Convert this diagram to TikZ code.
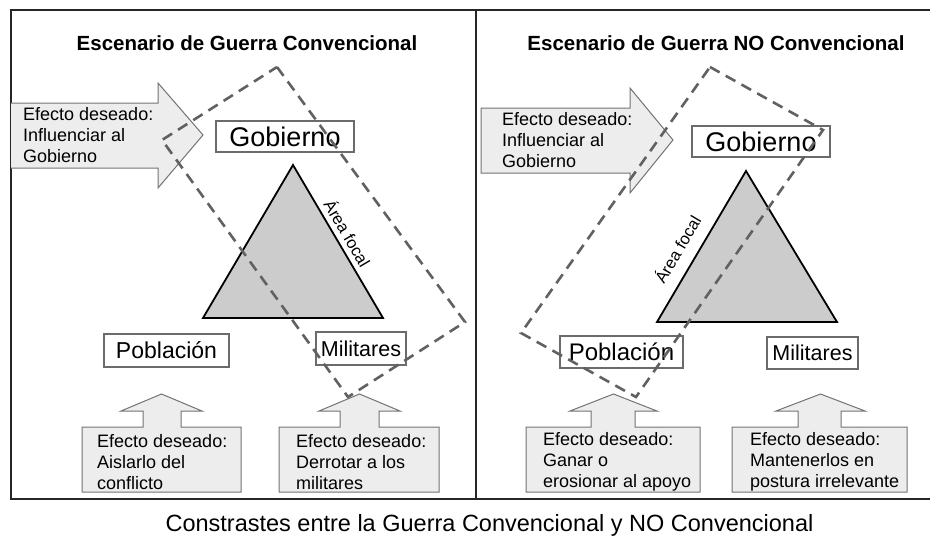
\documentclass[tikz,border=0pt]{standalone}
\usepackage{fontspec}
\setmainfont{Liberation Sans}
\definecolor{arrowfill}{gray}{0.93}
\definecolor{arrowdraw}{gray}{0.45}
\definecolor{trifill}{gray}{0.80}
\definecolor{dashcol}{gray}{0.38}
\definecolor{boxdraw}{gray}{0.42}
\tikzset{
  arrowshape/.style={fill=arrowfill, draw=arrowdraw, line width=1pt, line join=miter},
  labelbox/.style={draw=boxdraw, fill=white, line width=1.2pt, inner sep=0pt},
  focalzone/.style={draw=dashcol, dash pattern=on 11pt off 7pt, line width=2.6pt},
  tri/.style={fill=trifill, draw=black, line width=1.8pt, line join=miter},
  smalltext/.style={font=\fontsize{18}{21}\selectfont, align=left, inner sep=0pt, anchor=west},
  titletext/.style={font=\bfseries\fontsize{20.5}{23}\selectfont, inner sep=0pt},
  focaltext/.style={font=\fontsize{16.5}{18}\selectfont, inner sep=0pt},
  frameline/.style={line width=2pt, draw=black!85}
}
\begin{document}
\begin{tikzpicture}[x=1pt,y=-1pt]
\useasboundingbox (0,0) rectangle (930,536);
% frame
\draw[frameline] (932,10) -- (11,10) -- (11,499) -- (932,499);
\draw[frameline] (476,10) -- (476,499);
% titles
\node[titletext] (t1) at (247,43) {Escenario de Guerra Convencional};
\node[titletext] (t2) at (716,43) {Escenario de Guerra NO Convencional};
% ---------- left panel ----------
\draw[arrowshape] (11,103) -- (158,103) -- (158,83) -- (203,135) -- (158,188) -- (158,168) -- (11,168);
\node[smalltext] (a1) at (23,135) {Efecto deseado:\\Influenciar al\\Gobierno};
\node[labelbox, minimum width=138pt, minimum height=31pt, font=\fontsize{27}{30}\selectfont] (g1) at (285,136.5) {Gobierno};
\coordinate (l1) at (293,165);
\coordinate (l2) at (383,318);
\coordinate (l3) at (203,318);
\draw[tri] (l1) -- (l2) -- (l3) -- cycle;
\node[focaltext, rotate=-59.5] (f1) at (348,233) {Área focal};
\node[labelbox, minimum width=125pt, minimum height=33pt, font=\fontsize{23}{26}\selectfont] (p1) at (166.5,350.5) {Población};
\node[labelbox, minimum width=90pt, minimum height=33pt, font=\fontsize{21.5}{24}\selectfont] (m1) at (361,348.5) {Militares};
\draw[arrowshape] (82,492) -- (82,427) -- (143,427) -- (143,411) -- (121,411) -- (161.5,394) -- (202,411) -- (181,411) -- (181,427) -- (241,427) -- (241,492) -- cycle;
\node[smalltext] (b1) at (97,462) {Efecto deseado:\\Aislarlo del\\conflicto};
\draw[arrowshape] (279,492) -- (279,427) -- (340,427) -- (340,411) -- (319,411) -- (359.5,394) -- (400,411) -- (379,411) -- (379,427) -- (439,427) -- (439,492) -- cycle;
\node[smalltext] (b2) at (296,462) {Efecto deseado:\\Derrotar a los\\militares};
\draw[focalzone] (277,67) -- (465,322) -- (348,397) -- (162,140) -- cycle;
% ---------- right panel ----------
\draw[arrowshape] (481,108) -- (630,108) -- (630,88) -- (673,140) -- (630,193) -- (630,173) -- (481,173) -- cycle;
\node[smalltext] (a2) at (502,140) {Efecto deseado:\\Influenciar al\\Gobierno};
\node[labelbox, minimum width=138pt, minimum height=31pt, font=\fontsize{27}{30}\selectfont] (g2) at (761,141.5) {Gobierno};
\coordinate (r1) at (746,171);
\coordinate (r2) at (837,322);
\coordinate (r3) at (657,322);
\draw[tri] (r1) -- (r2) -- (r3) -- cycle;
\node[focaltext, rotate=59.5] (f2) at (677,249) {Área focal};
\node[labelbox, minimum width=123pt, minimum height=32pt, font=\fontsize{24}{27}\selectfont] (p2) at (621.5,352) {Población};
\node[labelbox, minimum width=91pt, minimum height=32pt, font=\fontsize{21.5}{24}\selectfont] (m2) at (812.5,353) {Militares};
\draw[arrowshape] (526,492) -- (526,427) -- (591,427) -- (591,411) -- (570,411) -- (613.5,394) -- (657,411) -- (635,411) -- (635,427) -- (700,427) -- (700,492) -- cycle;
\node[smalltext] (b3) at (543,462) {Efecto deseado:\\Ganar o\\erosionar al apoyo};
\draw[arrowshape] (732,492) -- (732,427) -- (798,427) -- (798,411) -- (776,411) -- (820.5,394) -- (865,411) -- (841,411) -- (841,427) -- (907,427) -- (907,492) -- cycle;
\node[smalltext] (b4) at (750,462) {Efecto deseado:\\Mantenerlos en\\postura irrelevante};
\draw[focalzone] (710,67) -- (823,130) -- (636,397) -- (521,333) -- cycle;
% caption
\node[anchor=base, inner sep=0pt, font=\fontsize{23.5}{26}\selectfont] (cap) at (489.5,531) {Constrastes entre la Guerra Convencional y NO Convencional};
\end{tikzpicture}
\end{document}
